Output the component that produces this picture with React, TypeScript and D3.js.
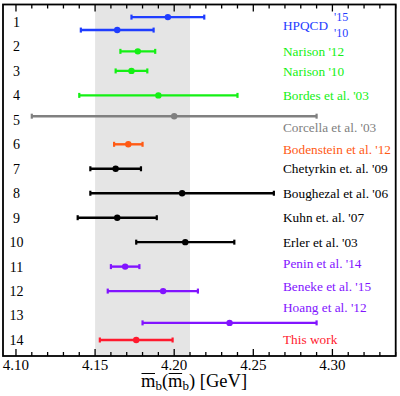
import React from 'react';
import * as d3 from 'd3';

// one entry per error bar
const names = ["HPQCD '15", "HPQCD '10", "Narison '12", "Narison '10", "Bordes et al. '03", "Corcella et al. '03",
  "Bodenstein et al. '12", "Chetyrkin et. al. '09", "Boughezal et al. '06", "Kuhn et. al. '07", "Erler et al. '03",
  "Penin et al. '14", "Beneke et al. '15", "Hoang et al. '12", "This work"];
const centers = [4.196, 4.164, 4.177, 4.173, 4.19, 4.20, 4.171, 4.163, 4.205, 4.164, 4.207, 4.169, 4.193, 4.235, 4.176];
const lows = [4.173, 4.141, 4.166, 4.163, 4.14, 4.11, 4.162, 4.147, 4.147, 4.139, 4.176, 4.160, 4.158, 4.180, 4.153];
const highs = [4.219, 4.187, 4.188, 4.183, 4.24, 4.29, 4.180, 4.179, 4.263, 4.189, 4.238, 4.178, 4.215, 4.290, 4.199];
const rows = [0.8, 1.33, 2.2, 3.0, 4.0, 4.85, 6.0, 7.0, 8.0, 9.0, 10.0, 11.0, 12.0, 13.3, 14.0];
const colors = ['#1f3dff', '#1f3dff', '#14f014', '#14f014', '#14f014', '#808080', '#ff5a14', '#000', '#000', '#000',
  '#000', '#8214ff', '#8214ff', '#8214ff', '#ff1a2e'];

// legend text on the right
const legendText = ['HPQCD', "Narison '12", "Narison '10", "Bordes et al. '03", "Corcella et al. '03", "Bodenstein et al. '12",
  "Chetyrkin et. al. '09", "Boughezal et al. '06", "Kuhn et. al. '07", "Erler et al. '03", "Penin et al. '14",
  "Beneke et al. '15", "Hoang et al. '12", 'This work'];
const legendRows = [1.12, 2.2, 3.0, 4.0, 5.29, 6.19, 7.0, 8.0, 8.98, 9.99, 10.85, 11.8, 12.65, 13.96];
const legendColors = ['#1f3dff', '#14f014', '#14f014', '#14f014', '#808080', '#ff5a14', '#000', '#000', '#000', '#000',
  '#8214ff', '#8214ff', '#8214ff', '#ff1a2e'];

const rowNumbers = d3.range(1, 15);
const majorTicks = [4.10, 4.15, 4.20, 4.25, 4.30];
const minorTicks = d3.range(4.10, 4.3401, 0.01);
const band = [4.15, 4.21];

const FONT = 'Liberation Serif, Times New Roman, serif';

const App = () => {
  const left = 3, right = 395.7, top = 4.5, bottom = 356;
  const x = d3.scaleLinear().domain([4.0918, 4.34]).range([left, right]);
  const y = d3.scaleLinear().domain([1, 14]).range([22, 340]);

  return (
    <svg width={400} height={396} style={{ position: 'absolute', left: 0, top: 0, background: '#fff', fontFamily: FONT }}>
      <rect x={x(band[0])} y={top} width={x(band[1]) - x(band[0])} height={bottom - top} fill="#e5e5e5" />

      {/* ticks, top and bottom, pointing inwards */}
      {minorTicks.map((t, i) => {
        const major = majorTicks.some(m => Math.abs(m - t) < 1e-6);
        const len = major ? 7 : 4;
        return (
          <g key={i} stroke="#000" strokeWidth={1.3}>
            <line x1={x(t)} x2={x(t)} y1={bottom} y2={bottom - len} />
            <line x1={x(t)} x2={x(t)} y1={top} y2={top + len} />
          </g>
        );
      })}
      {majorTicks.map(t => (
        <text key={t} x={x(t)} y={369.5} fontSize={15} textAnchor="middle">{t.toFixed(2)}</text>
      ))}

      {rowNumbers.map(r => (
        <text key={r} x={16.5} y={y(r)} dy="0.35em" fontSize={14} textAnchor="middle">{r}</text>
      ))}

      {centers.map((c, i) => {
        const cy = y(rows[i]);
        return (
          <g key={names[i]} stroke={colors[i]} fill={colors[i]}>
            <line x1={x(lows[i])} x2={x(highs[i])} y1={cy} y2={cy} strokeWidth={2.4} />
            <line x1={x(lows[i])} x2={x(lows[i])} y1={cy - 2.5} y2={cy + 2.5} strokeWidth={2.2} />
            <line x1={x(highs[i])} x2={x(highs[i])} y1={cy - 2.5} y2={cy + 2.5} strokeWidth={2.2} />
            <circle cx={x(c)} cy={cy} r={3.2} stroke="none" />
          </g>
        );
      })}

      {legendText.map((t, i) => (
        <text key={t} x={283} y={y(legendRows[i])} dy="0.35em" fontSize={13.3} fill={legendColors[i]}>{t}</text>
      ))}
      <text x={334} y={y(0.8)} dy="0.35em" fontSize={12} fill="#1f3dff">'15</text>
      <text x={334} y={y(1.43)} dy="0.35em" fontSize={12} fill="#1f3dff">'10</text>

      <rect x={left} y={top} width={right - left} height={bottom - top} fill="none" stroke="#000" strokeWidth={1.8} />

      {/* axis title: m-bar_b(m-bar_b) [GeV] */}
      <text y={387} fontSize={18.5}>
        <tspan x={141}>m</tspan>
        <tspan x={155.4} dy={3} fontSize={13}>b</tspan>
        <tspan x={161.9} dy={-3}>(</tspan>
        <tspan x={168.1}>m</tspan>
        <tspan x={182.5} dy={3} fontSize={13}>b</tspan>
        <tspan x={189} dy={-3} style={{ whiteSpace: 'pre' }}>) [GeV]</tspan>
      </text>
      <line x1={141.5} x2={155} y1={373.5} y2={373.5} stroke="#000" strokeWidth={1} />
      <line x1={168.6} x2={182.1} y1={373.5} y2={373.5} stroke="#000" strokeWidth={1} />
    </svg>
  );
};

export default App;
